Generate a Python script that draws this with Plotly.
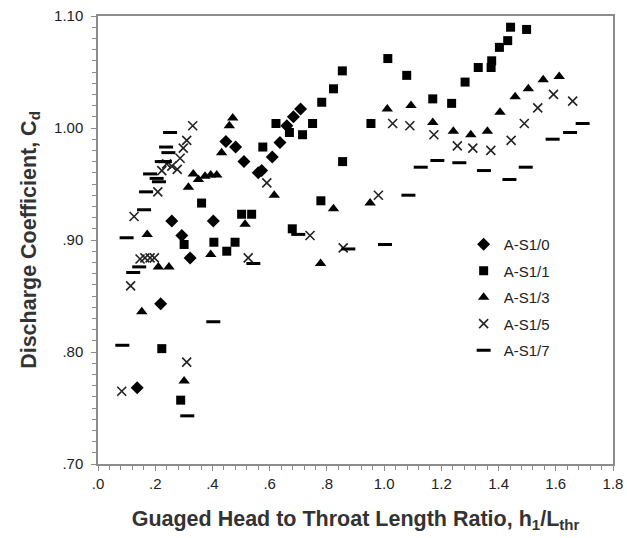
import plotly.graph_objects as go

# A-S1/0 (diamonds)
s0_x = [0.137, 0.219, 0.258, 0.293, 0.322, 0.403, 0.447, 0.481, 0.510, 0.560, 0.572, 0.609, 0.636, 0.660, 0.683, 0.708]
s0_y = [0.768, 0.843, 0.917, 0.904, 0.884, 0.917, 0.988, 0.983, 0.970, 0.960, 0.962, 0.974, 0.987, 1.002, 1.010, 1.017]

# A-S1/1 (squares)
s1_x = [0.223, 0.289, 0.301, 0.362, 0.405, 0.450, 0.479, 0.502, 0.537, 0.576, 0.622, 0.669, 0.679, 0.715, 0.750,
        0.779, 0.782, 0.823, 0.854, 0.855, 0.954, 1.013, 1.079, 1.170, 1.236, 1.283, 1.329, 1.374, 1.376, 1.403,
        1.432, 1.442, 1.498]
s1_y = [0.803, 0.757, 0.896, 0.933, 0.898, 0.890, 0.898, 0.923, 0.923, 0.983, 1.004, 0.996, 0.910, 0.994, 1.004,
        0.935, 1.023, 1.035, 1.051, 0.970, 1.004, 1.062, 1.047, 1.026, 1.022, 1.041, 1.054, 1.054, 1.060, 1.072,
        1.078, 1.090, 1.088]

# A-S1/3 (triangles)
s3_x = [0.153, 0.172, 0.211, 0.248, 0.301, 0.316, 0.333, 0.351, 0.374, 0.394, 0.415, 0.394, 0.432, 0.459, 0.471,
        0.514, 0.616, 0.778, 0.823, 0.951, 1.011, 1.094, 1.170, 1.242, 1.303, 1.361, 1.405, 1.458, 1.504, 1.556, 1.612]
s3_y = [0.836, 0.905, 0.876, 0.876, 0.774, 0.947, 0.959, 0.954, 0.957, 0.958, 0.958, 0.887, 0.978, 1.002, 1.009,
        0.914, 0.940, 0.879, 0.928, 0.933, 1.017, 1.020, 1.005, 0.997, 0.994, 0.997, 1.014, 1.028, 1.035, 1.043, 1.046]

# A-S1/5 (crosses)
s5_x = [0.083, 0.114, 0.126, 0.147, 0.164, 0.182, 0.197, 0.209, 0.223, 0.240, 0.258, 0.277, 0.287, 0.298, 0.310,
        0.331, 0.310, 0.525, 0.590, 0.741, 0.857, 0.980, 1.030, 1.090, 1.174, 1.256, 1.310, 1.373, 1.444, 1.490,
        1.537, 1.592, 1.659]
s5_y = [0.765, 0.859, 0.921, 0.883, 0.884, 0.884, 0.884, 0.943, 0.962, 0.968, 0.966, 0.963, 0.973, 0.982, 0.989,
        1.002, 0.791, 0.884, 0.951, 0.904, 0.893, 0.940, 1.004, 1.002, 0.994, 0.984, 0.982, 0.980, 0.989, 1.004,
        1.018, 1.030, 1.024]

# A-S1/7 (dashes)
s7_x = [0.085, 0.100, 0.123, 0.144, 0.161, 0.168, 0.182, 0.205, 0.213, 0.223, 0.234, 0.238, 0.246, 0.252, 0.312,
        0.403, 0.543, 0.700, 0.875, 1.003, 1.085, 1.128, 1.186, 1.263, 1.349, 1.438, 1.495, 1.589, 1.650, 1.694]
s7_y = [0.806, 0.902, 0.871, 0.876, 0.927, 0.943, 0.959, 0.955, 0.952, 0.970, 0.970, 0.983, 0.978, 0.996, 0.743,
        0.827, 0.879, 0.905, 0.892, 0.896, 0.940, 0.965, 0.971, 0.969, 0.962, 0.954, 0.965, 0.990, 0.996, 1.004]

x_tickvals = [0, 0.2, 0.4, 0.6, 0.8, 1.0, 1.2, 1.4, 1.6, 1.8]
x_ticktext = [".0", ".2", ".4", ".6", ".8", "1.0", "1.2", "1.4", "1.6", "1.8"]
y_tickvals = [0.70, 0.80, 0.90, 1.00, 1.10]
y_ticktext = [".70", ".80", ".90", "1.00", "1.10"]

fig = go.Figure()
fig.add_trace(go.Scatter(x=s0_x, y=s0_y, mode="markers", name="A-S1/0", legendgroup="a",
                         marker=dict(symbol="diamond", size=10, color="black")))
fig.add_trace(go.Scatter(x=s1_x, y=s1_y, mode="markers", name="A-S1/1", legendgroup="b",
                         marker=dict(symbol="square", size=9, color="black")))
fig.add_trace(go.Scatter(x=s3_x, y=s3_y, mode="markers", name="A-S1/3", legendgroup="c",
                         marker=dict(symbol="triangle-up", size=10, color="black")))
fig.add_trace(go.Scatter(x=s5_x, y=s5_y, mode="markers", name="A-S1/5", legendgroup="d",
                         marker=dict(symbol="x-thin-open", size=9, color="#222",
                                     line=dict(width=1.6, color="#222"))))
fig.add_trace(go.Scatter(x=s7_x, y=s7_y, mode="markers", name="A-S1/7", legendgroup="e",
                         marker=dict(symbol="line-ew-open", size=10, color="black",
                                     line=dict(width=3, color="black"))))

axis_common = dict(showgrid=False, zeroline=False, showline=True, linecolor="#8c8c8c", linewidth=1.5,
                   mirror=True, ticks="outside", tickcolor="#8c8c8c", tickwidth=1, automargin=False,
                   tickfont=dict(family="Liberation Sans, Arial", size=15, color="#222"))

fig.update_xaxes(range=[0, 1.8], tickvals=x_tickvals, ticktext=x_ticktext, ticklen=5,
                 ticklabeloverflow="allow",
                 minor=dict(dtick=0.04, tick0=0, ticks="outside", ticklen=4, tickcolor="#8c8c8c"),
                 title=dict(text="Guaged Head to Throat Length Ratio, h<sub>1</sub>/L<sub>thr</sub>",
                            font=dict(family="Liberation Sans, Arial", size=21.5, color="#333", weight="bold"),
                            standoff=20),
                 **axis_common)
fig.update_yaxes(range=[0.70, 1.10], tickvals=y_tickvals, ticktext=y_ticktext, ticklen=5,
                 ticklabelstandoff=5,
                 minor=dict(dtick=0.01, tick0=0.7, ticks="outside", ticklen=4, tickcolor="#8c8c8c"),
                 title=dict(text="Discharge Coefficient, C<sub>d</sub>",
                            font=dict(family="Liberation Sans, Arial", size=21.5, color="#333", weight="bold"),
                            standoff=12),
                 **axis_common)

fig.update_layout(
    width=627, height=538,
    margin=dict(l=98, r=14, t=16, b=74),
    plot_bgcolor="white", paper_bgcolor="white",
    showlegend=True,
    legend=dict(x=0.71, y=0.527, xanchor="left", yanchor="top", bgcolor="rgba(0,0,0,0)",
                font=dict(family="Liberation Sans, Arial", size=15, color="#222"),
                tracegroupgap=4, itemwidth=30),
)

fig.write_html("out.html", config={"displayModeBar": False},
               post_script="document.body.style.margin='0';document.body.style.padding='0';")
